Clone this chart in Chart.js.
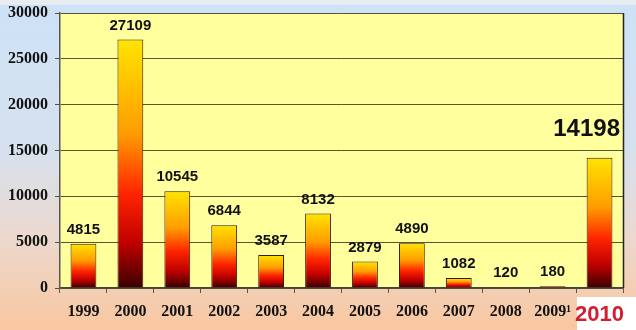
<!DOCTYPE html>
<html>
<head>
<meta charset="utf-8">
<script src="https://cdn.jsdelivr.net/npm/chart.js@4/dist/chart.umd.min.js"></script>
<style>
html,body{margin:0;padding:0;background:#fff;}
#wrap{width:636px;height:330px;position:relative;}
</style>
</head>
<body>
<div id="wrap"><canvas id="c" width="636" height="330"></canvas></div>
<script>
const categories = ["1999","2000","2001","2002","2003","2004","2005","2006","2007","2008","2009\u00B9","2010"];
const values = [4815, 27109, 10545, 6844, 3587, 8132, 2879, 4890, 1082, 120, 180, 14198];
const yTicks = [0, 5000, 10000, 15000, 20000, 25000, 30000];

const bgPlugin = {
  id: 'bg',
  beforeDraw(chart) {
    const ctx = chart.ctx, W = chart.width, H = chart.height;
    ctx.save();
    const g = ctx.createLinearGradient(0, 0, 0, H);
    g.addColorStop(0, '#CDE2F7');
    g.addColorStop(0.45, '#D6E1EF');
    g.addColorStop(0.72, '#ECD8CE');
    g.addColorStop(1, '#F9C7A0');
    ctx.fillStyle = g;
    ctx.fillRect(0, 0, W, H);
    ctx.fillStyle = '#E6ECF0';
    ctx.fillRect(0, 0, W, 5);
    ctx.fillStyle = '#FFFFFF';
    ctx.fillRect(577, 297, W - 577, H - 297);
    const a = chart.chartArea;
    ctx.fillStyle = '#FFFF9E';
    ctx.fillRect(a.left, a.top, a.right - a.left, a.bottom - a.top);
    ctx.restore();
  },
  afterDraw(chart) {
    const ctx = chart.ctx, a = chart.chartArea;
    ctx.save();
    ctx.strokeStyle = '#222';
    ctx.lineWidth = 1.5;
    ctx.beginPath();
    ctx.moveTo(a.right + 0.5, a.top);
    ctx.lineTo(a.right + 0.5, a.bottom);
    ctx.stroke();
    const meta = chart.getDatasetMeta(0);
    const data = chart.data.datasets[0].data;
    ctx.fillStyle = '#111';
    ctx.textBaseline = 'middle';
    meta.data.forEach((el, i) => {
      const last = i === data.length - 1;
      if (last) {
        ctx.font = 'bold 24px "Liberation Sans", Arial, sans-serif';
        ctx.textAlign = 'right';
        ctx.fillText(String(data[i]), a.right - 3, el.y - 28);
      } else {
        ctx.font = 'bold 15px "Liberation Sans", Arial, sans-serif';
        ctx.textAlign = 'center';
        ctx.fillText(String(data[i]), el.x, el.y - 14);
      }
    });
    ctx.restore();
  }
};

function barGradient(c) {
  const chart = c.chart;
  const ys = chart.scales.y;
  if (!ys || c.dataIndex === undefined) return '#FF6000';
  const top = ys.getPixelForValue(c.raw);
  const base = ys.getPixelForValue(0);
  if (!isFinite(top) || !isFinite(base) || base - top < 0.5) return '#6A0000';
  const g = chart.ctx.createLinearGradient(0, top, 0, base);
  g.addColorStop(0, '#FFE400');
  g.addColorStop(0.38, '#FF9C00');
  g.addColorStop(0.62, '#FF2400');
  g.addColorStop(0.82, '#C00000');
  g.addColorStop(1, '#3A0000');
  return g;
}

new Chart(document.getElementById('c'), {
  type: 'bar',
  data: {
    labels: categories,
    datasets: [{
      data: values,
      backgroundColor: barGradient,
      borderColor: '#3A1A08',
      borderWidth: 1,
      barPercentage: 0.55,
      categoryPercentage: 1.0
    }]
  },
  options: {
    responsive: false,
    animation: false,
    devicePixelRatio: 1,
    layout: { padding: { top: 13, right: 13, left: 0, bottom: 0 } },
    plugins: { legend: { display: false }, tooltip: { enabled: false } },
    scales: {
      x: {
        afterFit(s) { s.height = 42; s.paddingRight = 0; s.paddingLeft = 0; },
        grid: { display: true, drawOnChartArea: false, drawTicks: true, tickLength: 5, color: '#555', offset: true },
        border: { display: true, color: '#444', width: 1.5 },
        ticks: {
          padding: 9,
          maxRotation: 0,
          autoSkip: false,
          color: (c) => c.index === categories.length - 1 ? '#D21E30' : '#111',
          font: (c) => c.index === categories.length - 1
            ? { family: '"Liberation Sans", Arial, sans-serif', size: 22, weight: 'bold' }
            : { family: '"Liberation Serif", "Times New Roman", serif', size: 16, weight: 'bold' }
        }
      },
      y: {
        min: 0,
        max: 30000,
        afterFit(s) { s.width = 60; s.paddingTop = 0; s.paddingBottom = 0; },
        afterBuildTicks(s) { s.ticks = yTicks.map(v => ({ value: v })); },
        grid: { color: '#55552F', lineWidth: 1, tickLength: 5, drawTicks: true },
        border: { display: true, color: '#555', width: 1.5 },
        ticks: {
          padding: 7,
          color: '#111',
          font: { family: '"Liberation Serif", "Times New Roman", serif', size: 16, weight: 'bold' },
          callback: (v) => String(v)
        }
      }
    }
  },
  plugins: [bgPlugin]
});
</script>
</body>
</html>
